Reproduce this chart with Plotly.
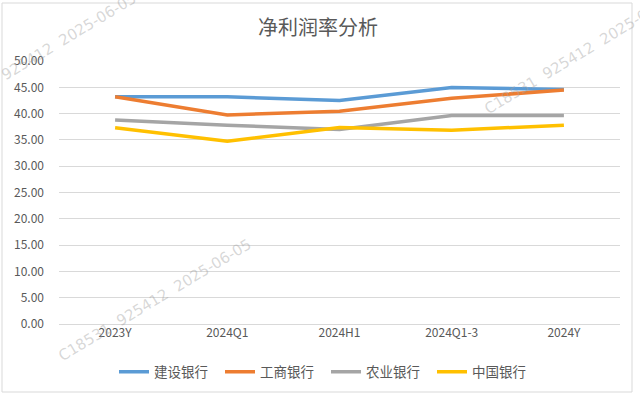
import plotly.graph_objects as go

categories = ["2023Y", "2024Q1", "2024H1", "2024Q1-3", "2024Y"]
ccb = [43.2, 43.2, 42.5, 44.95, 44.6]     # 建设银行
icbc = [43.2, 39.75, 40.45, 42.9, 44.5]   # 工商银行
abc = [38.8, 37.8, 37.0, 39.65, 39.65]    # 农业银行
boc = [37.3, 34.75, 37.35, 36.85, 37.8]   # 中国银行
series_names = ["建设银行", "工商银行", "农业银行", "中国银行"]
tick_vals = [0, 5, 10, 15, 20, 25, 30, 35, 40, 45, 50]
colors = ["#5B9BD5", "#ED7D31", "#A5A5A5", "#FFC000"]

font_family = "Noto Sans CJK SC, Noto Sans, sans-serif"

fig = go.Figure()
for name, vals, c in zip(series_names, [ccb, icbc, abc, boc], colors):
    fig.add_trace(go.Scatter(x=categories, y=vals, name=name, mode="lines",
                             line=dict(color=c, width=3.5)))

L, R, T, B = 59, 20, 61, 73
PW, PH = 640 - L - R, 397 - T - B


def px_x(px):
    return (px - L) / PW


def px_y(py):
    return (397 - B - py) / PH


fig.update_layout(
    width=640, height=397,
    margin=dict(l=L, r=R, t=T, b=B, autoexpand=False),
    paper_bgcolor="white", plot_bgcolor="white",
    font=dict(family=font_family, color="#595959", size=12),
    title=dict(text="净利润率分析", x=318 / 640, xanchor="center", xref="container",
               y=1 - 28 / 397, yanchor="middle", yref="container",
               font=dict(size=20, color="#595959", family=font_family)),
    showlegend=True,
    legend=dict(orientation="h", x=px_x(326), xanchor="center", y=px_y(372), yanchor="middle",
                font=dict(size=13.5, color="#595959"), entrywidth=61, entrywidthmode="pixels",
                tracegroupgap=0, bgcolor="rgba(0,0,0,0)"),
    xaxis=dict(type="category", range=[-0.5, 4.5], showgrid=False, showline=False,
               ticks="", tickfont=dict(size=12, color="#595959"), fixedrange=True),
    yaxis=dict(range=[0, 50], tickvals=tick_vals,
               ticktext=[f"{v:.2f}" for v in tick_vals],
               showgrid=True, gridcolor="#D9D9D9", gridwidth=1,
               zeroline=True, zerolinecolor="#D9D9D9", zerolinewidth=1,
               showline=False, ticks="", tickfont=dict(size=12, color="#595959"),
               ticklabelstandoff=14),
)

# chart border
fig.add_shape(type="rect", xref="paper", yref="paper",
              x0=px_x(2), x1=px_x(632), y0=px_y(392), y1=px_y(3),
              line=dict(color="#D9D9D9", width=1), fillcolor="rgba(0,0,0,0)", layer="below")

# watermarks
wm_color = "rgba(160,160,160,0.42)"
for px, py in [(155, 300), (581, 53), (40, 54)]:
    fig.add_annotation(text="C18531  925412  2025-06-05", xref="paper", yref="paper",
                       x=px_x(px), y=px_y(py), xanchor="center", yanchor="middle",
                       showarrow=False, textangle=-31,
                       font=dict(size=15, color=wm_color, family="DejaVu Sans"))

fig.write_html("out.html", config={"displayModeBar": False},
               post_script="document.body.style.margin='0px';document.body.style.overflow='hidden';")
